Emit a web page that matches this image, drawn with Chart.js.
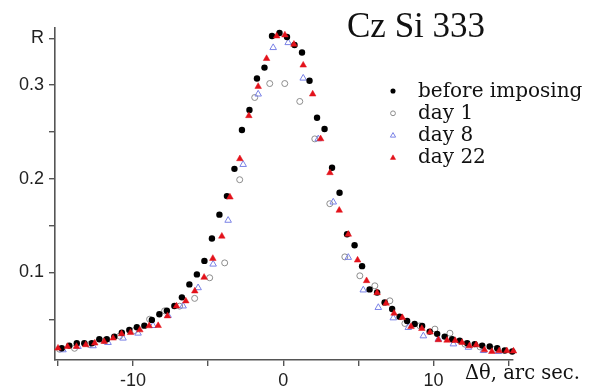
<!DOCTYPE html>
<html>
<head>
<meta charset="utf-8">
<script src="https://cdn.jsdelivr.net/npm/chart.js@4.4.1/dist/chart.umd.min.js"></script>
<style>
  html, body { margin: 0; padding: 0; background: #fff; }
  #wrap { width: 592px; height: 387px; }
</style>
</head>
<body>
<div id="wrap"><canvas id="chart" width="592" height="387"></canvas></div>
<script>
// 标题 / 图例 / 坐标
const titleText = 'Cz Si 333';
const xAxisTitle = 'Δθ, arc sec.';
const seriesNames = ['before imposing', 'day 1', 'day 8', 'day 22'];
const xTicks = [-15, -10, -5, 0, 5, 10, 15];
const xTickLabels = { '-10': '-10', '0': '0', '10': '10' };
const yTicks = [0.05, 0.1, 0.15, 0.2, 0.25, 0.3, 0.35];
const yTickLabels = { '10': '0.1', '20': '0.2', '30': '0.3', '35': 'R' };

// before imposing
const beforeX = [-14.75, -14.25, -13.75, -13.25, -12.75, -12.25, -11.75, -11.25, -10.75, -10.25,
  -9.75, -9.25, -8.75, -8.25, -7.75, -7.25, -6.75, -6.25, -5.75, -5.25,
  -4.75, -4.25, -3.75, -3.25, -2.75, -2.25, -1.75, -1.25, -0.75, -0.25,
  0.25, 0.75, 1.25, 1.75, 2.25, 2.75, 3.25, 3.75, 4.25, 4.75,
  5.25, 5.75, 6.25, 6.75, 7.25, 7.75, 8.25, 8.75, 9.25, 9.75,
  10.25, 10.75, 11.25, 11.75, 12.25, 12.75, 13.25, 13.75, 14.25, 14.75, 15.25];
const beforeR = [0.0191, 0.0219, 0.0245, 0.0245, 0.0245, 0.0287, 0.0287, 0.0315, 0.0357, 0.0386,
  0.0415, 0.0432, 0.0493, 0.0553, 0.0591, 0.0641, 0.0734, 0.0872, 0.0979, 0.1123,
  0.1362, 0.1617, 0.1815, 0.2106, 0.2521, 0.2734, 0.307, 0.3187, 0.3524, 0.3556,
  0.3514, 0.3429, 0.3349, 0.3046, 0.2652, 0.2532, 0.2117, 0.1851, 0.1407, 0.129,
  0.1067, 0.0819, 0.0785, 0.068, 0.061, 0.0528, 0.0482, 0.045, 0.0429, 0.0368,
  0.0344, 0.0315, 0.0287, 0.0272, 0.0245, 0.0235, 0.0219, 0.0209, 0.0191, 0.0166, 0.0155];

// day 1
const day1X = [-14.9, -13.9, -12.9, -11.9, -10.9, -9.9, -8.9, -7.9, -6.9, -5.9,
  -4.9, -3.9, -2.9, -1.9, -0.9, 0.1, 1.1, 2.1, 3.1, 4.1,
  5.1, 6.1, 7.1, 8.1, 9.1, 10.1, 11.1, 12.1, 13.1, 14.1];
const day1R = [0.018, 0.019, 0.023, 0.027, 0.032, 0.038, 0.05, 0.059, 0.064, 0.0723,
  0.0943, 0.1102, 0.199, 0.2868, 0.3017, 0.3017, 0.2826, 0.2426, 0.1734, 0.1166,
  0.0964, 0.0857, 0.0697, 0.0455, 0.043, 0.0395, 0.0351, 0.0234, 0.0205, 0.018];

// day 8
const day8X = [-14.67, -13.67, -12.67, -11.67, -10.67, -9.67, -8.67, -7.67, -6.67, -5.67,
  -4.67, -3.67, -2.67, -1.67, -0.67, 0.33, 1.33, 2.33, 3.33, 4.33,
  5.33, 6.33, 7.33, 8.33, 9.33, 10.33, 11.33, 12.33, 13.33, 14.33];
const day8R = [0.0173, 0.0209, 0.0216, 0.0251, 0.0298, 0.0351, 0.0432, 0.054, 0.0641, 0.0836,
  0.1088, 0.1556, 0.2152, 0.2904, 0.34, 0.3453, 0.3074, 0.2426, 0.1751, 0.116,
  0.0812, 0.0625, 0.0514, 0.0411, 0.0322, 0.0287, 0.0236, 0.02, 0.0165, 0.0155];

// day 22
const day22X = [-15.0, -14.37, -13.77, -13.15, -12.55, -11.93, -11.33, -10.77, -10.17, -9.55,
  -8.93, -8.33, -7.71, -7.11, -6.49, -5.89, -5.27, -4.69, -4.09, -3.55,
  -2.89, -2.29, -1.67, -1.11, -0.44, 0.11, 0.71, 1.33, 1.96, 2.49,
  3.11, 3.73, 4.33, 4.95, 5.55, 6.25, 6.85, 7.38, 7.93, 8.51,
  9.23, 9.78, 10.33, 10.91, 11.45, 11.91, 12.4, 12.85, 13.4, 13.89,
  14.38, 14.89, 15.33];
const day22R = [0.0191, 0.0209, 0.0209, 0.0227, 0.0245, 0.0262, 0.0298, 0.0344, 0.0357, 0.0386,
  0.0429, 0.0432, 0.0535, 0.0641, 0.0695, 0.0801, 0.0947, 0.1149, 0.1386, 0.1804,
  0.2213, 0.2673, 0.2985, 0.3283, 0.3524, 0.3535, 0.3436, 0.3213, 0.2904, 0.2426,
  0.2064, 0.1663, 0.1407, 0.1131, 0.0911, 0.0783, 0.067, 0.0564, 0.0517, 0.0421,
  0.04, 0.0362, 0.028, 0.0275, 0.0272, 0.0251, 0.0216, 0.0226, 0.0173, 0.0155,
  0.0163, 0.0163, 0.016];

const toPoints = (xs, ys) => xs.map((x, i) => ({ x, y: ys[i] }));

// 标题、图例、x 轴名称
const overlay = {
  id: 'overlay',
  afterDraw(chart) {
    const ctx = chart.ctx;
    ctx.save();
    ctx.fillStyle = '#111';
    ctx.textBaseline = 'alphabetic';
    ctx.font = '35px "Liberation Serif"';
    ctx.fillText(titleText, 347, 37);

    ctx.font = '20px "DejaVu Serif"';
    chart.data.datasets.forEach((ds, i) => {
      const base = 96.5 + i * 22.3;
      ctx.fillStyle = ds.backgroundColor;
      ctx.strokeStyle = ds.borderColor;
      ctx.lineWidth = ds.borderWidth;
      Chart.helpers.drawPoint(ctx, {
        pointStyle: ds.pointStyle,
        radius: ds.pointRadius * 0.8,
        borderWidth: ds.borderWidth,
        rotation: 0,
      }, 393, base - 5.5);
      ctx.fillStyle = '#111';
      ctx.fillText(ds.label, 418, base);
    });

    ctx.font = '19.5px "DejaVu Serif"';
    ctx.fillText(xAxisTitle, 465, 379);
    ctx.restore();
  },
};

new Chart(document.getElementById('chart').getContext('2d'), {
  type: 'scatter',
  data: {
    datasets: [
      {
        label: seriesNames[0],
        data: toPoints(beforeX, beforeR),
        pointStyle: 'circle',
        pointRadius: 3.2,
        backgroundColor: '#000',
        borderColor: '#000',
        borderWidth: 0,
        order: 1,
      },
      {
        label: seriesNames[1],
        data: toPoints(day1X, day1R),
        pointStyle: 'circle',
        pointRadius: 3,
        backgroundColor: 'rgba(0,0,0,0)',
        borderColor: '#8c8c8c',
        borderWidth: 1,
        order: 3,
      },
      {
        label: seriesNames[2],
        data: toPoints(day8X, day8R),
        pointStyle: 'triangle',
        pointRadius: 3.8,
        backgroundColor: 'rgba(0,0,0,0)',
        borderColor: '#7a82e6',
        borderWidth: 1,
        order: 2,
      },
      {
        label: seriesNames[3],
        data: toPoints(day22X, day22R),
        pointStyle: 'triangle',
        pointRadius: 3.8,
        backgroundColor: '#e3121b',
        borderColor: '#e3121b',
        borderWidth: 0.5,
        order: 0,
      },
    ],
  },
  options: {
    responsive: false,
    animation: false,
    clip: false,
    layout: { padding: { left: 0, right: 79, top: 28, bottom: 0 } },
    plugins: {
      legend: { display: false },
      tooltip: { enabled: false },
    },
    scales: {
      x: {
        type: 'linear',
        min: -15.2,
        max: 15.3,
        afterBuildTicks: s => { s.ticks = xTicks.map(v => ({ value: v })); },
        afterFit: s => { s.height = 27; },
        border: { color: '#555', width: 1.6 },
        grid: { drawOnChartArea: false, color: '#555', lineWidth: 1.4, tickLength: 6 },
        ticks: {
          color: '#222',
          padding: 4,
          maxRotation: 0,
          autoSkip: false,
          font: { family: '"Liberation Sans", Arial', size: 18 },
          callback: v => xTickLabels[String(Math.round(v))] || '',
        },
      },
      y: {
        type: 'linear',
        min: 0.0065,
        max: 0.361,
        afterBuildTicks: s => { s.ticks = yTicks.map(v => ({ value: v })); },
        afterFit: s => { s.width = 55; },
        border: { color: '#555', width: 1.6 },
        grid: { drawOnChartArea: false, color: '#555', lineWidth: 1.4, tickLength: 6 },
        ticks: {
          color: '#222',
          padding: 5,
          autoSkip: false,
          font: { family: '"Liberation Sans", Arial', size: 18 },
          callback: v => yTickLabels[String(Math.round(v * 100))] || '',
        },
      },
    },
  },
  plugins: [overlay],
});
</script>
</body>
</html>
